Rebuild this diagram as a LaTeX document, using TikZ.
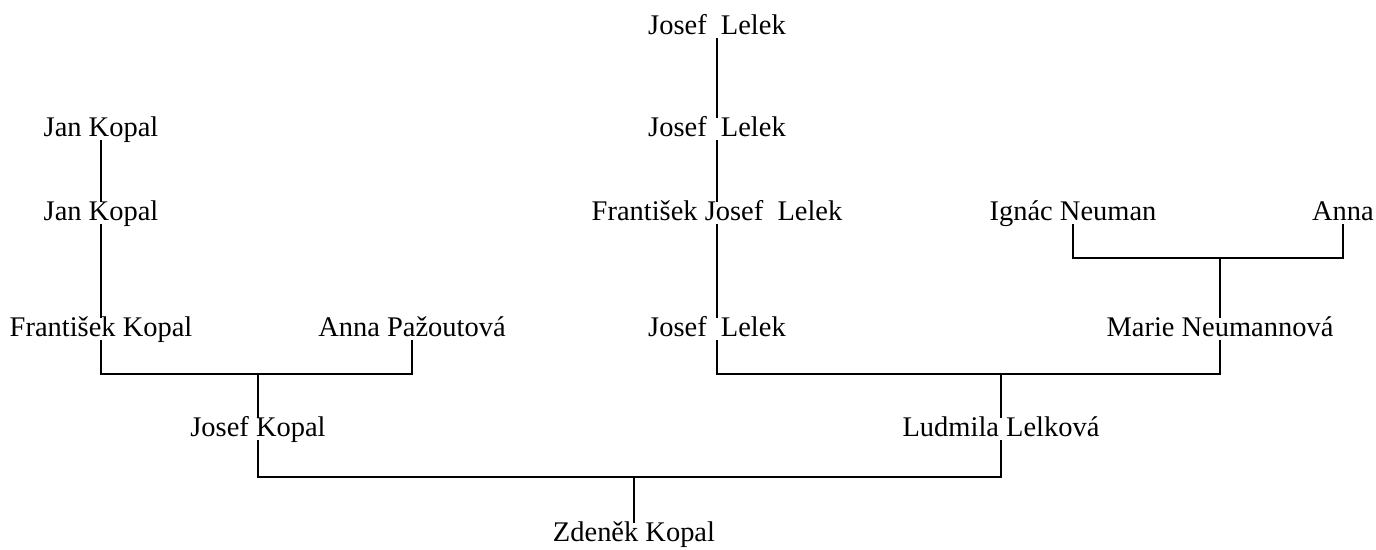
\documentclass[tikz,border=0pt]{standalone}
\usepackage{fontspec}
\setmainfont{Liberation Serif}
\usepackage{tikz}

\begin{document}
\begin{tikzpicture}[x=0.02cm, y=-0.02cm, line width=0.8pt,
    person/.style={inner sep=0pt, anchor=base, text height=1em, text depth=0.2em,
                   font=\fontsize{16.2}{19}\selectfont}]
  \useasboundingbox (0,0) rectangle (1376,549);

  % Lelek line
  \node[person] (lelekA) at (717, 34) {Josef~ Lelek};
  \node[person] (lelekB) at (717, 136) {Josef~ Lelek};
  \node[person] (lelekC) at (717, 220) {František Josef~ Lelek};
  \node[person] (lelekD) at (717, 336) {Josef~ Lelek};

  % Kopal line
  \node[person] (jan1) at (101, 136) {Jan Kopal};
  \node[person] (jan2) at (101, 220) {Jan Kopal};
  \node[person] (fkopal) at (101, 336) {František Kopal};
  \node[person] (apaz) at (412, 336) {Anna Pažoutová};
  \node[person] (jkopal) at (258, 436) {Josef Kopal};

  % Neuman line
  \node[person] (ignac) at (1073, 220) {Ignác Neuman};
  \node[person] (anna) at (1343, 220) {Anna};
  \node[person] (marie) at (1220, 336) {Marie Neumannová};

  \node[person] (ludmila) at (1001, 436) {Ludmila Lelková};
  \node[person] (zdenek) at (634, 541) {Zdeněk Kopal};

  \coordinate (kopalbar) at (258, 374);
  \coordinate (neumanbar) at (1220, 258);
  \coordinate (lelekbar) at (1001, 374);
  \coordinate (zdenekbar) at (634, 477);

  \draw (lelekA) edge (lelekB)
        (lelekB) edge (lelekC)
        (lelekC) edge (lelekD)
        (jan1) edge (jan2)
        (jan2) edge (fkopal);

  \draw (fkopal) |- (kopalbar) -| (apaz);
  \draw (kopalbar) -- (jkopal);
  \draw (ignac) |- (neumanbar) -| (anna);
  \draw (neumanbar) -- (marie);
  \draw (lelekD) |- (lelekbar) -| (marie);
  \draw (lelekbar) -- (ludmila);
  \draw (jkopal) |- (zdenekbar) -| (ludmila);
  \draw (zdenekbar) -- (zdenek);

\end{tikzpicture}
\end{document}
